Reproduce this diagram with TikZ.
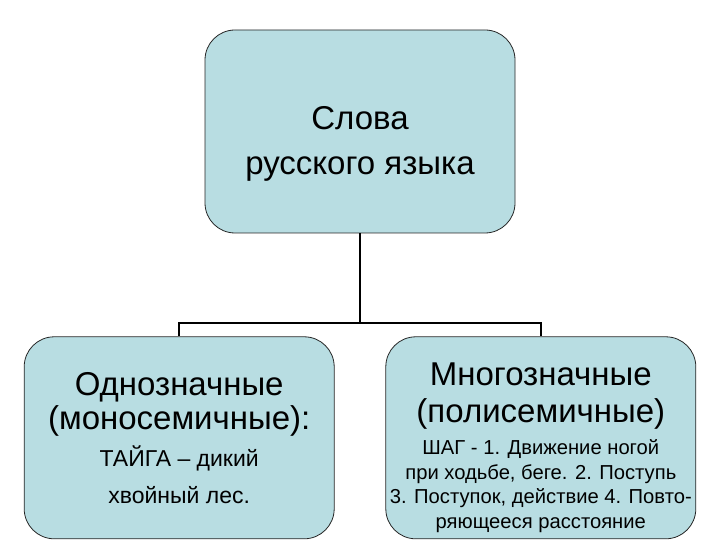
\documentclass[tikz,border=0pt]{standalone}
\usepackage{fontspec}
\setmainfont{Liberation Sans}
\usetikzlibrary{positioning}
\definecolor{boxfill}{RGB}{184,221,226}

\begin{document}
\begin{tikzpicture}[
    x=1pt, y=1pt,
    node distance=103pt,
    every node/.style={draw=black!85, line width=0.8pt, fill=boxfill, rounded corners=30pt, minimum width=310pt, text width=310pt, align=flush center, inner sep=0pt},
    root/.style={minimum height=203pt, font=\fontsize{33}{45}\selectfont},
    branch/.style={minimum height=202pt},
    link/.style={line width=2pt, black}
]
\useasboundingbox (0,0) rectangle (720,540);

% Root
\node[root] (words) at (360,408.5) {\vskip3pt Слова\\русского языка};

% Branches
\node[branch, below left=103pt and -130pt of words] (mono) {
    \fontsize{33}{34}\selectfont Однозначные\\(моносемичные):\par
    \fontsize{23}{37}\selectfont ТАЙГА – дикий\\хвойный лес.\par};
\node[branch, below right=103pt and -130pt of words] (poly) {\vskip5pt
    \fontsize{33}{37}\selectfont Многозначные\\(полисемичные)\par
    \vskip8pt
    \fontsize{20.2}{24.5}\selectfont ШАГ - 1. Движение ногой\\при ходьбе, беге. 2. Поступь\\3. Поступок, действие 4. Повто-\\ряющееся расстояние\par};

% Connections
\coordinate[below=90pt of words] (split);
\draw[link] (words.south) -- (split);
\draw[link] (mono.north) |- (split) -| (poly.north);

\end{tikzpicture}
\end{document}
